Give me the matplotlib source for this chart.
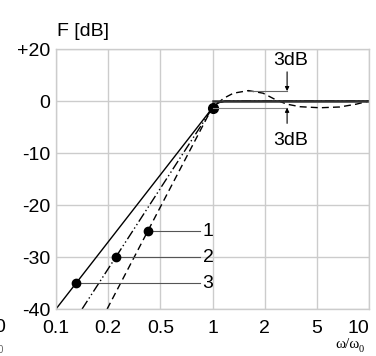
import matplotlib
matplotlib.use("Agg")
import matplotlib.pyplot as plt

# x axis: equally spaced frequency ratios (w/w0), positions 0..6
x_labels = ["0.1", "0.2", "0.5", "1", "2", "5", "10"]
y_ticks = [10, 0, -10, -20, -30, -40]
y_labels = ["+20", "0", "-10", "-20", "-30", "-40"]

# curve 3 (solid)
c3_x = [0.0, 2.9, 3.0, 3.1, 3.23, 6.0]
c3_y = [-40.0, -2.6, -1.3, -0.4, 0.0, 0.0]
# curve 2 (dash-dot-dot)
c2_x = [0.5, 2.9, 3.0, 3.1, 3.25, 6.0]
c2_y = [-40.0, -2.9, -1.3, -0.4, 0.0, 0.0]
# curve 1 (dashed, with overshoot)
c1_x = [0.98, 2.9, 3.0, 3.21, 3.40, 3.69, 3.97, 4.20, 4.42, 4.68, 5.06, 5.44, 5.76, 6.0]
c1_y = [-40.0, -3.1, -1.3, 0.5, 1.5, 2.0, 1.5, 0.3, -0.6, -1.1, -1.3, -1.15, -0.6, 0.0]

# labelled points on each curve
pt_x = [1.76, 1.15, 0.383]
pt_y = [-25.0, -30.0, -35.0]
pt_names = ["1", "2", "3"]

plt.rcParams["font.family"] = ["Liberation Sans", "DejaVu Sans"]
fs = 14

fig = plt.figure(figsize=(3.76, 3.56), dpi=100)
ax = fig.add_axes([56 / 376, 1 - 309 / 356, 313 / 376, 260 / 356])

grid_c = "#cccccc"
ax.set_xlim(0, 6)
ax.set_ylim(-40, 10)
ax.set_xticks(range(len(x_labels)))
ax.set_xticklabels(x_labels)
ax.set_yticks(y_ticks)
ax.set_yticklabels(y_labels)
ax.tick_params(length=0, labelsize=fs, pad=4)
ax.tick_params(axis="x", pad=8)
ax.get_xticklabels()[-1].set_ha("right")
ax.grid(True, color=grid_c, lw=1)
for s in ax.spines.values():
    s.set_color(grid_c)
    s.set_linewidth(1)

ax.plot(c3_x, c3_y, color="black", lw=1.0)
ax.plot(c2_x, c2_y, color="black", lw=1.0, dashes=(7, 2, 1, 2, 1, 2))
ax.plot(c1_x, c1_y, color="black", lw=1.0, dashes=(5, 3))
ax.plot([3.0, 6.0], [0, 0], color="#333333", lw=1.8)

# points and leader lines
for x, y, name in zip(pt_x, pt_y, pt_names):
    ax.plot([x, 2.76], [y, y], color="#555555", lw=0.8)
    ax.plot(x, y, "o", color="black", ms=6)
    ax.text(2.81, y, name, fontsize=fs, ha="left", va="center")
ax.plot(3.0, -1.3, "o", color="black", ms=7)

# 3dB marker
ax.plot([3.68, 4.43], [1.9, 1.9], color="#666666", lw=0.8)
ax.plot([3.0, 4.43], [-1.3, -1.3], color="#888888", lw=0.8)
ax.annotate("", xy=(4.43, 1.9), xytext=(4.43, 5.6),
            arrowprops=dict(arrowstyle="-|>", color="black", lw=0.8,
                            mutation_scale=6, shrinkA=0, shrinkB=0))
ax.annotate("", xy=(4.43, -1.3), xytext=(4.43, -4.3),
            arrowprops=dict(arrowstyle="-|>", color="black", lw=0.8,
                            mutation_scale=6, shrinkA=0, shrinkB=0))
ax.text(4.49, 7.7, "3dB", fontsize=fs, ha="center", va="center")
ax.text(4.49, -7.6, "3dB", fontsize=fs, ha="center", va="center")

fig.text(57 / 376, 1 - 31 / 356, "F [dB]", fontsize=fs, va="center")
fig.text(335 / 376, 1 - 345 / 356, "ω/ω", fontsize=11, family="Liberation Serif", va="center")
fig.text(359 / 376, 1 - 349 / 356, "0", fontsize=7.5, family="Liberation Serif", va="center")
# clipped label of neighbouring figure at left edge
fig.text(5 / 376, 1 - 327 / 356, "0", fontsize=fs, ha="right", va="center")
fig.text(3 / 376, 1 - 350 / 356, "0", fontsize=7, ha="right", va="center", color="#666666")

fig.savefig("out.png", dpi=100)
